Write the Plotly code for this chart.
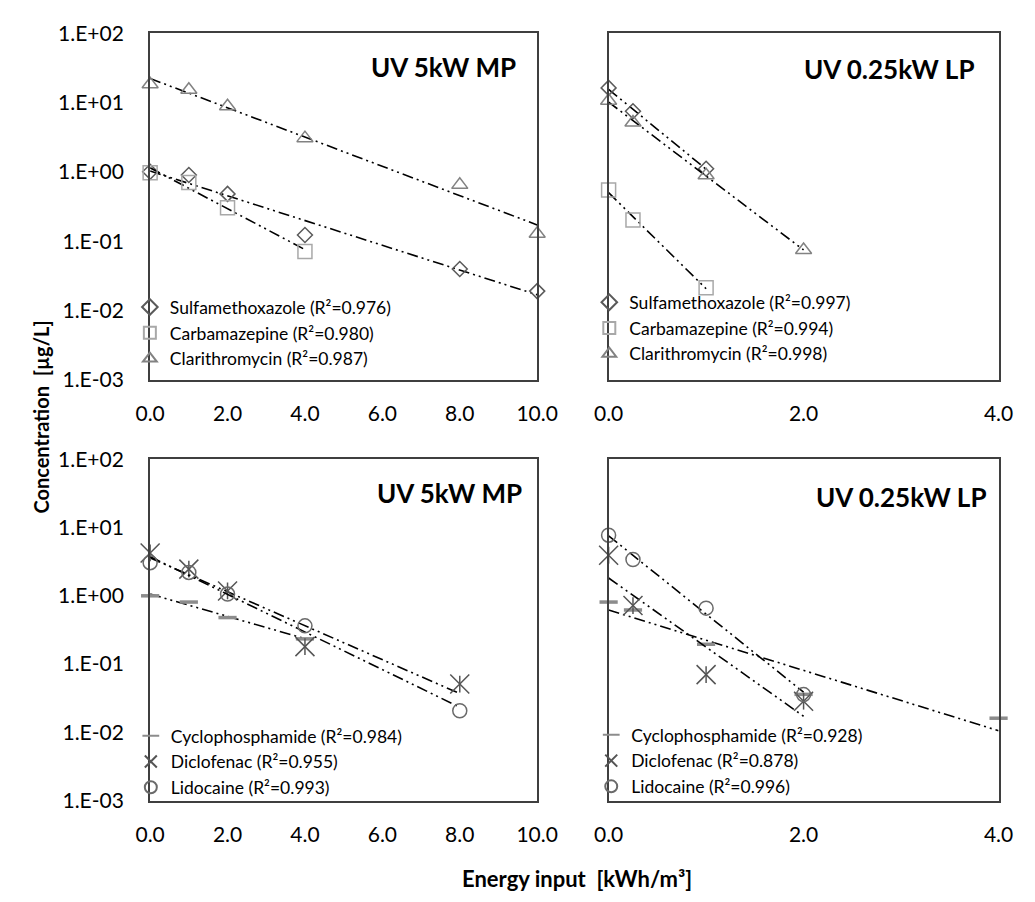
import numpy as np
import plotly.graph_objects as go

# ---- data: concentrations [µg/L] vs. energy input [kWh/m³] ----
# UV 5kW MP, first group
mp_energy = [0, 1, 2, 4, 8, 10]
mp_smx = [1.01, 0.91, 0.485, 0.124, 0.040, 0.0192]
mp_cbz_energy = [0, 1, 2, 4]
mp_cbz = [0.98, 0.71, 0.306, 0.0715]
mp_cla = [18.5, 15.4, 8.9, 3.09, 0.655, 0.129]

# UV 0.25kW LP, first group
lp_smx_energy = [0, 0.25, 1]
lp_smx = [16.4, 7.55, 1.12]
lp_cbz_energy = [0, 0.25, 1]
lp_cbz = [0.55, 0.203, 0.0214]
lp_cla_energy = [0, 0.25, 1, 2]
lp_cla = [10.7, 5.18, 0.90, 0.075]

# UV 5kW MP, second group
mp2_energy = [0, 1, 2, 4, 8]
mp_cyc_energy = [0, 1, 2, 4]
mp_cyc = [1.0, 0.81, 0.48, 0.234]
mp_dcf = [4.25, 2.46, 1.18, 0.18, 0.051]
mp_lid = [3.06, 2.2, 1.06, 0.363, 0.0207]

# UV 0.25kW LP, second group
lp_cyc_energy = [0, 0.25, 1, 2, 4]
lp_cyc = [0.81, 0.62, 0.195, 0.036, 0.0161]
lp_dcf_energy = [0, 0.25, 1, 2]
lp_dcf = [3.93, 0.72, 0.070, 0.0286]
lp_lid_energy = [0, 0.25, 1, 2]
lp_lid = [7.74, 3.41, 0.66, 0.0357]

# legend labels
names_top_mp = ["Sulfamethoxazole (R²=0.976)", "Carbamazepine (R²=0.980)", "Clarithromycin (R²=0.987)"]
names_top_lp = ["Sulfamethoxazole (R²=0.997)", "Carbamazepine (R²=0.994)", "Clarithromycin (R²=0.998)"]
names_bot_mp = ["Cyclophosphamide (R²=0.984)", "Diclofenac (R²=0.955)", "Lidocaine (R²=0.993)"]
names_bot_lp = ["Cyclophosphamide (R²=0.928)", "Diclofenac (R²=0.878)", "Lidocaine (R²=0.996)"]

panel_titles = ["UV 5kW MP", "UV 0.25kW LP", "UV 5kW MP", "UV 0.25kW LP"]

y_tickvals = [1e-3, 1e-2, 1e-1, 1e0, 1e1, 1e2]
y_ticktext = ["1.E-03", "1.E-02", "1.E-01", "1.E+00", "1.E+01", "1.E+02"]

# ---- styling ----
W, H = 1035, 902
FONT = "Lato, 'Open Sans', sans-serif"
AXIS_COLOR = "#3f3f3f"
FIT_DASH = "11px,4px,2px,4px,2px,4px"

C_DIAMOND = "#5a5a5a"
C_SQUARE = "#a8a8a8"
C_TRIANGLE = "#828282"
C_DASH = "#8c8c8c"
C_STAR = "#555555"
C_CIRCLE = "#6a6a6a"


def px_x(p):
    return p / W


def px_y(p):
    return 1 - p / H


fig = go.Figure()


def add_series(xv, yv, name, symbol, color, size, xa, ya, legend, lw=1.5, extra=None):
    xv = np.asarray(xv, dtype=float)
    yv = np.asarray(yv, dtype=float)
    # exponential trendline (straight on the log axis)
    slope, icept = np.polyfit(xv, np.log10(yv), 1)
    xf = np.array([xv.min(), xv.max()])
    fig.add_trace(go.Scatter(
        x=xf, y=10 ** (icept + slope * xf), mode="lines",
        line=dict(color="black", width=1.6, dash=FIT_DASH),
        xaxis=xa, yaxis=ya, showlegend=False, hoverinfo="skip", cliponaxis=False))
    fig.add_trace(go.Scatter(
        x=xv, y=yv, mode="markers", name=name,
        marker=dict(symbol=symbol, size=size, color=color,
                    line=dict(color=color, width=lw)),
        xaxis=xa, yaxis=ya, legend=legend, cliponaxis=False))
    if extra is not None:
        sym2, size2 = extra
        fig.add_trace(go.Scatter(
            x=xv, y=yv, mode="markers", showlegend=False,
            marker=dict(symbol=sym2, size=size2, color=color,
                        line=dict(color=color, width=lw)),
            xaxis=xa, yaxis=ya, cliponaxis=False))


# top left
add_series(mp_energy, mp_smx, names_top_mp[0], "diamond-open", C_DIAMOND, 11.5, "x", "y", "legend")
add_series(mp_cbz_energy, mp_cbz, names_top_mp[1], "square-open", C_SQUARE, 14, "x", "y", "legend")
add_series(mp_energy, mp_cla, names_top_mp[2], "triangle-up-open", C_TRIANGLE, 14, "x", "y", "legend")
# top right
add_series(lp_smx_energy, lp_smx, names_top_lp[0], "diamond-open", C_DIAMOND, 11.5, "x2", "y2", "legend2")
add_series(lp_cbz_energy, lp_cbz, names_top_lp[1], "square-open", C_SQUARE, 14, "x2", "y2", "legend2")
add_series(lp_cla_energy, lp_cla, names_top_lp[2], "triangle-up-open", C_TRIANGLE, 14, "x2", "y2", "legend2")
# bottom left
add_series(mp_cyc_energy, mp_cyc, names_bot_mp[0], "line-ew-open", C_DASH, 13, "x3", "y3", "legend3", lw=3.5)
add_series(mp2_energy, mp_dcf, names_bot_mp[1], "x-thin-open", C_STAR, 19, "x3", "y3", "legend3",
           extra=("line-ns-open", 12))
add_series(mp2_energy, mp_lid, names_bot_mp[2], "circle-open", C_CIRCLE, 14, "x3", "y3", "legend3")
# bottom right
add_series(lp_cyc_energy, lp_cyc, names_bot_lp[0], "line-ew-open", C_DASH, 13, "x4", "y4", "legend4", lw=3.5)
add_series(lp_dcf_energy, lp_dcf, names_bot_lp[1], "x-thin-open", C_STAR, 19, "x4", "y4", "legend4",
           extra=("line-ns-open", 12))
add_series(lp_lid_energy, lp_lid, names_bot_lp[2], "circle-open", C_CIRCLE, 14, "x4", "y4", "legend4")

# ---- axes ----
left_dom = [px_x(140), px_x(541)]
right_dom = [px_x(615), px_x(1019)]
top_dom = [px_y(376.5), px_y(20)]
bot_dom = [px_y(809), px_y(458)]

common_x = dict(showline=True, mirror=True, linecolor=AXIS_COLOR, linewidth=2,
                showgrid=False, zeroline=False, ticks="", tickformat=".1f",
                tickfont=dict(size=21, color="black"), ticklabelstandoff=14)
common_y = dict(type="log", range=[-3, 2], showline=True, mirror=True, linecolor=AXIS_COLOR,
                linewidth=2, showgrid=False, zeroline=False, ticks="",
                tickvals=y_tickvals, ticktext=y_ticktext,
                tickfont=dict(size=21, color="black"), ticklabelstandoff=20)

fig.update_layout(
    xaxis=dict(domain=left_dom, range=[0, 10], dtick=2, anchor="y", **common_x),
    yaxis=dict(domain=top_dom, anchor="x", **common_y),
    xaxis2=dict(domain=right_dom, range=[0, 4], dtick=2, anchor="y2", **common_x),
    yaxis2=dict(domain=top_dom, anchor="x2", showticklabels=False, **common_y),
    xaxis3=dict(domain=left_dom, range=[0, 10], dtick=2, anchor="y3", **common_x),
    yaxis3=dict(domain=bot_dom, anchor="x3", **common_y),
    xaxis4=dict(domain=right_dom, range=[0, 4], dtick=2, anchor="y4", **common_x),
    yaxis4=dict(domain=bot_dom, anchor="x4", showticklabels=False, **common_y),
)

legend_common = dict(xanchor="left", yanchor="top", bgcolor="rgba(0,0,0,0)", borderwidth=0,
                     font=dict(size=17.5, color="black", family=FONT), itemsizing="constant",
                     tracegroupgap=0, itemwidth=30)
fig.update_layout(
    legend=dict(x=px_x(119), y=px_y(283), **legend_common),
    legend2=dict(x=px_x(595), y=px_y(278), **legend_common),
    legend3=dict(x=px_x(120), y=px_y(724), **legend_common),
    legend4=dict(x=px_x(597), y=px_y(723), **legend_common),
)

# ---- text ----
title_pos = [(367, 55), (815, 57), (373, 493), (828, 497)]
for text, (tx, ty) in zip(panel_titles, title_pos):
    fig.add_annotation(text=f"<b>{text}</b>", x=px_x(tx), y=px_y(ty), xref="paper", yref="paper",
                       xanchor="left", yanchor="middle", showarrow=False,
                       font=dict(size=26, color="black", family=FONT))

fig.add_annotation(text="<b>Energy input  [kWh/m³]</b>", x=px_x(582), y=px_y(889),
                   xref="paper", yref="paper", xanchor="center", yanchor="middle", showarrow=False,
                   font=dict(size=22, color="black", family=FONT))
fig.add_annotation(text="<b>Concentration  [µg/L]</b>", x=px_x(27), y=px_y(415),
                   xref="paper", yref="paper", xanchor="center", yanchor="middle", showarrow=False,
                   textangle=-90, font=dict(size=20, color="black", family=FONT))

fig.update_layout(
    width=W, height=H, margin=dict(l=0, r=0, t=0, b=0),
    paper_bgcolor="white", plot_bgcolor="white",
    font=dict(family=FONT, color="black"),
    showlegend=True,
)

fig.write_html("out.html")
